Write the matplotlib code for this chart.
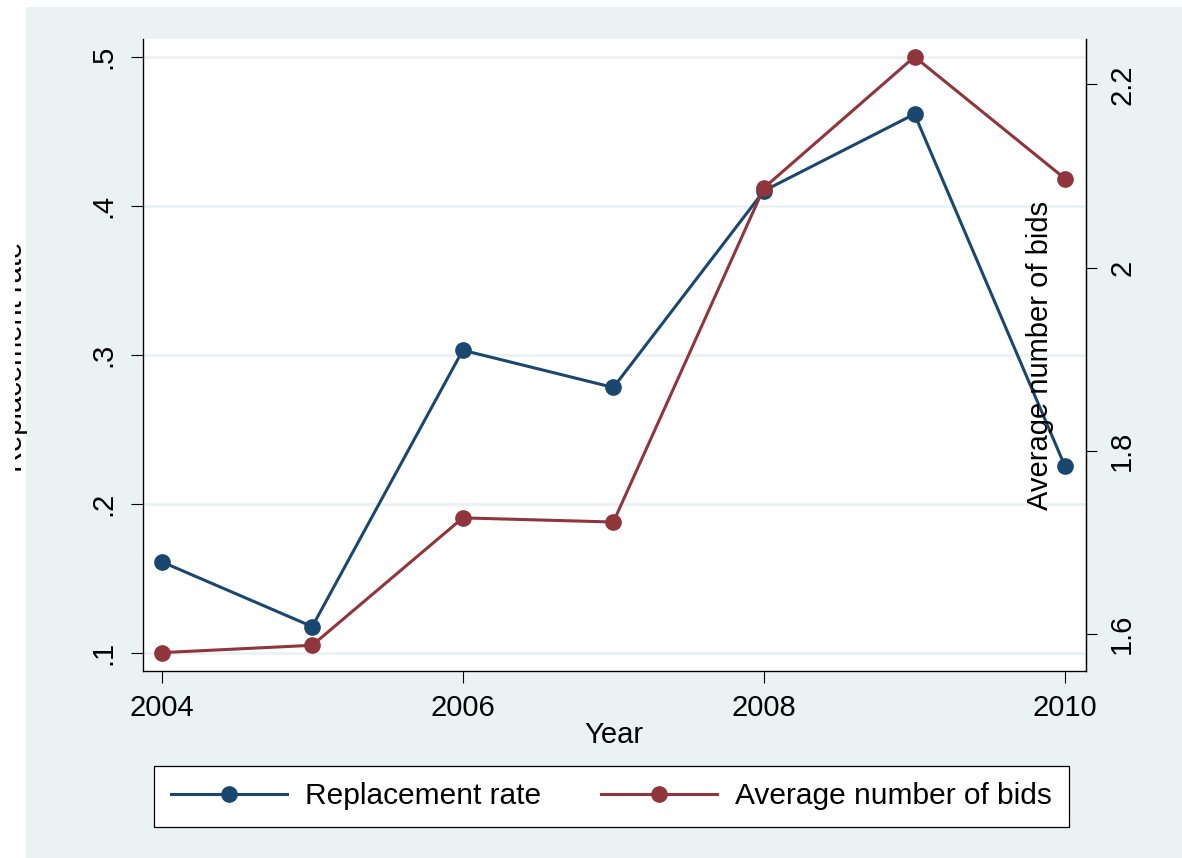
import matplotlib
matplotlib.use("Agg")
import matplotlib.pyplot as plt
from matplotlib.patches import Rectangle

years = [2004, 2005, 2006, 2007, 2008, 2009, 2010]
replacement_rate = [0.161, 0.1175, 0.303, 0.278, 0.410, 0.4615, 0.225]
avg_bids = [1.580, 1.588, 1.727, 1.7225, 2.087, 2.230, 2.097]

left_ticks = [0.1, 0.2, 0.3, 0.4, 0.5]
left_labels = [".1", ".2", ".3", ".4", ".5"]
right_ticks = [1.6, 1.8, 2.0, 2.2]
right_labels = ["1.6", "1.8", "2", "2.2"]
x_ticks = [2004, 2006, 2008, 2010]

navy = "#1A476F"
maroon = "#90353B"
bg = "#EAF2F3"

plt.rcParams["font.family"] = ["Liberation Sans", "DejaVu Sans"]
plt.rcParams["font.size"] = 21

W, H = 1182, 858
fig = plt.figure(figsize=(W / 100, H / 100), dpi=100)
fig.patch.set_facecolor("white")

# stata graph region
fig.patches.append(Rectangle((26 / W, 0), 1 - 26 / W, 1 - 7 / H, transform=fig.transFigure,
                             facecolor=bg, edgecolor="none", zorder=-10))

ax = fig.add_axes([142.7 / W, 1 - 670.7 / H, (1086 - 142.7) / W, (670.7 - 39) / H])
ax.set_facecolor("white")
ax.plot(years, replacement_rate, color=navy, lw=2.2, marker="o", markersize=11,
        label="Replacement rate")
ax.set_xlim(2003.874, 2010.139)
ax.set_ylim(0.0879, 0.5119)
ax.set_yticks(left_ticks)
ax.set_yticklabels(left_labels, rotation=90, va="center")
ax.set_xticks(x_ticks)
ax.grid(axis="y", color=bg, lw=2)
ax.set_axisbelow(True)
ax.tick_params(axis="y", length=8.5, width=0.8, pad=10)
ax.tick_params(axis="x", length=8.5, width=0.8, pad=8)
ax.spines["top"].set_visible(False)
for s in ["left", "bottom", "right"]:
    ax.spines[s].set_linewidth(0.9)

ax2 = ax.twinx()
ax2.plot(years, avg_bids, color=maroon, lw=2.2, marker="o", markersize=11,
         label="Average number of bids")
ax2.set_ylim(1.5603, 2.2494)
ax2.set_yticks(right_ticks)
ax2.set_yticklabels(right_labels, rotation=90, va="center")
ax2.tick_params(axis="y", length=8, width=0.8, pad=8)
ax2.spines["top"].set_visible(False)
ax2.spines["right"].set_linewidth(0.9)

fig.text(614 / W, 1 - 735 / H, "Year", ha="center", va="center")
fig.text(1040 / W, 1 - 355 / H, "Average number of bids", rotation=90, ha="center", va="center")
fig.text(28 / W, 1 - 357 / H, "Replacement rate", rotation=90, ha="right", va="center")
# left label is cut off at the image edge
fig.patches.append(Rectangle((0, 0), 15 / W, 1, transform=fig.transFigure,
                             facecolor="white", edgecolor="none", zorder=10))

h1, l1 = ax.get_legend_handles_labels()
h2, l2 = ax2.get_legend_handles_labels()
leg = fig.legend(h1 + h2, l1 + l2, loc="center", bbox_to_anchor=(611.5 / W, 1 - 796.5 / H),
                 ncol=2, frameon=True, fancybox=False, framealpha=1, fontsize=21.5,
                 handlelength=3.9, handletextpad=0.6, columnspacing=2.0,
                 borderpad=0.55, borderaxespad=0)
leg.get_frame().set_edgecolor("black")
leg.get_frame().set_facecolor("white")
leg.get_frame().set_linewidth(0.9)

fig.savefig("out.png", dpi=100, facecolor=fig.get_facecolor())
